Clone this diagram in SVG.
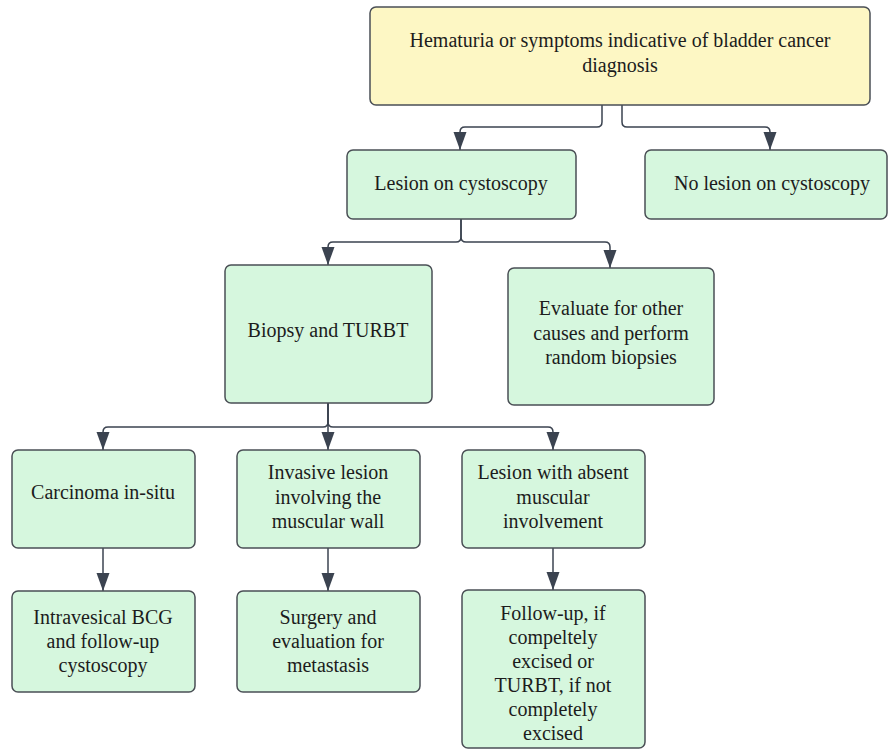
<svg xmlns="http://www.w3.org/2000/svg" width="888" height="751" viewBox="0 0 888 751">
<style>
.box{fill:#d6f7de;stroke:#4a4f55;stroke-width:1.5}
.ybox{fill:#fdf7c4;stroke:#4a4f55;stroke-width:1.5}
.c{fill:none;stroke:#3b4350;stroke-width:1.5}
</style>
<defs>
<marker id="ah" markerUnits="userSpaceOnUse" markerWidth="20" markerHeight="16" viewBox="0 -8 20 16" refX="18" refY="0" orient="auto">
<path d="M0,-6.5 L18,0 L0,6.5 z" fill="#3b4350"/>
</marker>
</defs>
<rect width="888" height="751" fill="#ffffff"/>
<g id="connectors">
<path class="c" marker-end="url(#ah)" d="M602,105 V122 Q602,127 597,127 H465 Q460,127 460,132 V150"/>
<path class="c" marker-end="url(#ah)" d="M622,105 V122 Q622,127 627,127 H765 Q770,127 770,132 V150"/>
<path class="c" marker-end="url(#ah)" d="M461,219 V237 Q461,242 456,242 H333 Q328,242 328,247 V265"/>
<path class="c" marker-end="url(#ah)" d="M461,219 V237 Q461,242 466,242 H605 Q610,242 610,247 V268"/>
<path class="c" marker-end="url(#ah)" d="M328,403 V422 Q328,427 323,427 H108 Q103,427 103,432 V450"/>
<path class="c" marker-end="url(#ah)" d="M328,403 V450"/>
<path class="c" marker-end="url(#ah)" d="M328,403 V422 Q328,427 333,427 H548 Q553,427 553,432 V450"/>
<path class="c" marker-end="url(#ah)" d="M103,548 V591"/>
<path class="c" marker-end="url(#ah)" d="M328,548 V591"/>
<path class="c" marker-end="url(#ah)" d="M553,548 V590"/>
</g>
<g font-family="Liberation Serif, DejaVu Serif, serif" font-size="20" fill="#1c1c1c" text-anchor="middle">
<g id="n-top">
<rect class="ybox" x="370" y="7" width="500" height="98" rx="6"/>
<text x="620" y="47">Hematuria or symptoms indicative of bladder cancer</text>
<text x="620" y="72">diagnosis</text>
</g>
<g id="n-lesion">
<rect class="box" x="347" y="150" width="229" height="69" rx="6"/>
<text x="461" y="190">Lesion on cystoscopy</text>
</g>
<g id="n-nolesion">
<rect class="box" x="645" y="150" width="242" height="69" rx="6"/>
<text x="772" y="190">No lesion on cystoscopy</text>
</g>
<g id="n-biopsy">
<rect class="box" x="225" y="265" width="207" height="138" rx="6"/>
<text x="328" y="337">Biopsy and TURBT</text>
</g>
<g id="n-evaluate">
<rect class="box" x="508" y="268" width="206" height="137" rx="6"/>
<text x="611" y="315">Evaluate for other</text>
<text x="611" y="340">causes and perform</text>
<text x="611" y="364">random biopsies</text>
</g>
<g id="n-cis">
<rect class="box" x="12" y="450" width="183" height="98" rx="6"/>
<text x="103" y="499">Carcinoma in-situ</text>
</g>
<g id="n-invasive">
<rect class="box" x="237" y="450" width="183" height="98" rx="6"/>
<text x="328" y="479">Invasive lesion</text>
<text x="328" y="504">involving the</text>
<text x="328" y="528">muscular wall</text>
</g>
<g id="n-absent">
<rect class="box" x="462" y="450" width="183" height="98" rx="6"/>
<text x="553" y="479">Lesion with absent</text>
<text x="553" y="504">muscular</text>
<text x="553" y="528">involvement</text>
</g>
<g id="n-bcg">
<rect class="box" x="12" y="591" width="183" height="101" rx="6"/>
<text x="103" y="624">Intravesical BCG</text>
<text x="103" y="648">and follow-up</text>
<text x="103" y="672">cystoscopy</text>
</g>
<g id="n-surgery">
<rect class="box" x="237" y="591" width="183" height="101" rx="6"/>
<text x="328" y="624">Surgery and</text>
<text x="328" y="648">evaluation for</text>
<text x="328" y="672">metastasis</text>
</g>
<g id="n-follow">
<rect class="box" x="462" y="590" width="183" height="158" rx="6"/>
<text x="553" y="620">Follow-up, if</text>
<text x="553" y="644">compeltely</text>
<text x="553" y="668">excised or</text>
<text x="553" y="692">TURBT, if not</text>
<text x="553" y="716">completely</text>
<text x="553" y="740">excised</text>
</g>
</g>
</svg>
